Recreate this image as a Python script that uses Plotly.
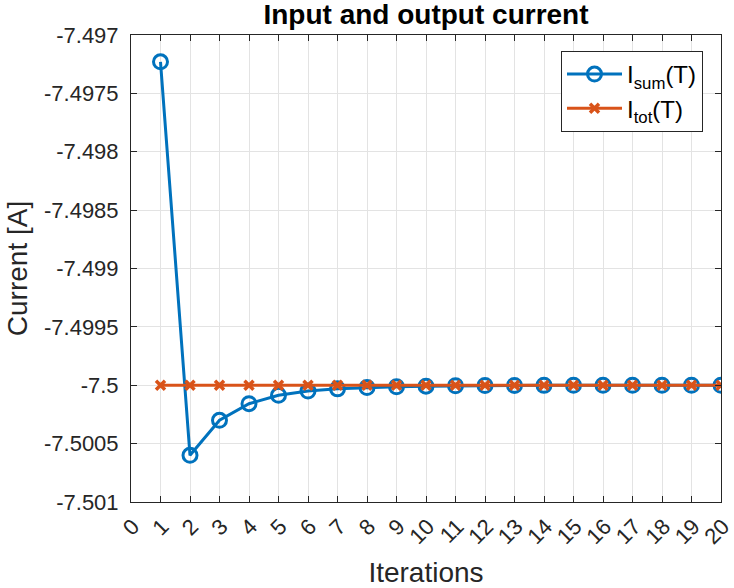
import plotly.graph_objects as go

iterations = list(range(1, 21))
i_sum = [-7.49723, -7.50060, -7.50030, -7.500158, -7.500086, -7.500050, -7.500031,
         -7.500020, -7.500013, -7.500008, -7.500005, -7.500003, -7.500002, -7.500001,
         -7.5000008, -7.5000005, -7.5000003, -7.5000002, -7.5000001, -7.50000005]
i_tot = [-7.5] * 20

y_tickvals = [-7.501, -7.5005, -7.5, -7.4995, -7.499, -7.4985, -7.498, -7.4975, -7.497]
y_ticktext = ["-7.501", "-7.5005", "-7.5", "-7.4995", "-7.499", "-7.4985", "-7.498", "-7.4975", "-7.497"]
x_tickvals = list(range(0, 21))

blue = "#0072BD"
orange = "#D95319"
font = "Liberation Sans, Arial, sans-serif"

fig = go.Figure()
fig.add_trace(go.Scatter(
    x=iterations, y=i_sum, mode="lines+markers", name="I<sub>sum</sub>(T)",
    line=dict(color=blue, width=3),
    marker=dict(symbol="circle-open", size=14, color=blue, line=dict(width=3)),
))
fig.add_trace(go.Scatter(
    x=iterations, y=i_tot, mode="lines+markers", name="I<sub>tot</sub>(T)",
    line=dict(color=orange, width=3),
    marker=dict(symbol="x-thin-open", size=9, color=orange, line=dict(width=3.5, color=orange)),
))

axis_common = dict(
    showline=True, linecolor="#262626", linewidth=1, mirror="ticks",
    ticks="inside", ticklen=6, tickcolor="#262626",
    showgrid=True, gridcolor="#e3e3e3", gridwidth=1, zeroline=False,
    tickfont=dict(family=font, size=22, color="#262626"),
    automargin=False, ticklabeloverflow="allow",
)

fig.update_layout(
    width=734, height=588,
    paper_bgcolor="white", plot_bgcolor="white",
    margin=dict(l=131, r=13, t=35, b=86),
    title=dict(text="<b>Input and output current</b>", x=(131 + 721) / 2 / 734, xanchor="center",
               y=1 - 14 / 588, yanchor="middle",
               font=dict(family=font, size=28, color="black")),
    xaxis=dict(range=[0, 20], tickvals=x_tickvals, tickangle=-45, ticklabelshift=2,
               ticklabelstandoff=2,
               title=dict(text="Iterations", font=dict(family=font, size=28, color="#262626"), standoff=14),
               **axis_common),
    yaxis=dict(range=[-7.501, -7.497], tickvals=y_tickvals, ticktext=y_ticktext,
               ticklabelstandoff=7,
               title=dict(text="Current [A]", font=dict(family=font, size=28, color="#262626"), standoff=8),
               **axis_common),
    legend=dict(x=(561 - 131) / 590, y=(502 - 51) / 467, xanchor="left", yanchor="top",
                bgcolor="white", bordercolor="#262626", borderwidth=1,
                font=dict(family=font, size=24, color="black"),
                itemwidth=55, tracegroupgap=4),
    showlegend=True,
)

fig.write_html("out.html", config={"displayModeBar": False},
               post_script="document.body.style.margin='0';")
